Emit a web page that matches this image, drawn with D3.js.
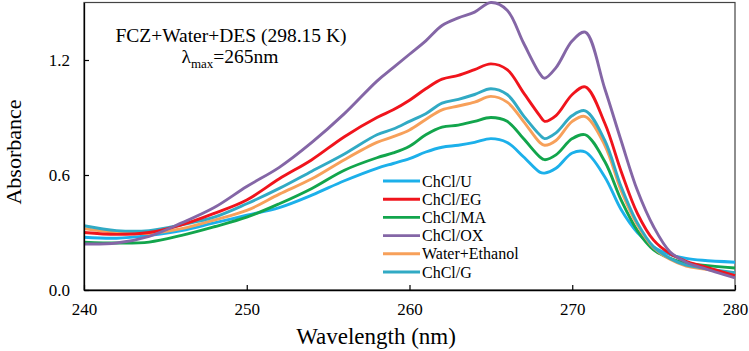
<!DOCTYPE html>
<html>
<head>
<meta charset="utf-8">
<script src="https://cdn.jsdelivr.net/npm/d3@7"></script>
<style>
  body { margin: 0; background: #fff; }
  svg text { font-family: "Liberation Serif", Tinos, "Times New Roman", Times, "DejaVu Serif", serif !important; fill: #000; }
</style>
</head>
<body>
<div id="chart"></div>
<script>
// wavelengths (nm)
const wavelengths = [240, 242, 244, 246, 248, 250, 252, 254, 256, 258, 259, 260, 261, 262, 263, 264, 265, 266, 267, 268, 268.3, 269, 270, 270.8, 272, 273, 274, 275, 276, 277, 278, 280];

// absorbance for each system
const chclU   = [0.275, 0.27, 0.285, 0.31, 0.35, 0.39, 0.43, 0.495, 0.57, 0.635, 0.66, 0.685, 0.72, 0.745, 0.755, 0.77, 0.79, 0.77, 0.695, 0.615, 0.61, 0.635, 0.715, 0.72, 0.59, 0.42, 0.30, 0.225, 0.185, 0.165, 0.155, 0.145];
const chclEG  = [0.30, 0.29, 0.30, 0.34, 0.40, 0.47, 0.58, 0.68, 0.80, 0.90, 0.94, 0.99, 1.05, 1.10, 1.12, 1.15, 1.18, 1.15, 1.03, 0.91, 0.88, 0.91, 1.02, 1.06, 0.87, 0.62, 0.40, 0.26, 0.19, 0.15, 0.125, 0.075];
const chclMA  = [0.25, 0.245, 0.25, 0.285, 0.33, 0.38, 0.45, 0.53, 0.625, 0.69, 0.715, 0.75, 0.81, 0.85, 0.86, 0.88, 0.90, 0.88, 0.79, 0.695, 0.68, 0.705, 0.79, 0.81, 0.67, 0.47, 0.31, 0.21, 0.165, 0.14, 0.13, 0.115];
const chclOX  = [0.24, 0.245, 0.28, 0.35, 0.43, 0.54, 0.64, 0.77, 0.92, 1.09, 1.16, 1.23, 1.30, 1.38, 1.42, 1.45, 1.50, 1.46, 1.29, 1.13, 1.105, 1.16, 1.30, 1.345, 1.05, 0.78, 0.52, 0.33, 0.20, 0.145, 0.115, 0.063];
const waterEt = [0.32, 0.30, 0.295, 0.32, 0.365, 0.415, 0.50, 0.58, 0.68, 0.77, 0.80, 0.835, 0.89, 0.94, 0.96, 0.98, 1.01, 0.98, 0.88, 0.77, 0.755, 0.78, 0.88, 0.905, 0.755, 0.52, 0.34, 0.22, 0.16, 0.125, 0.11, 0.085];
const chclG   = [0.335, 0.31, 0.31, 0.34, 0.38, 0.45, 0.53, 0.62, 0.71, 0.81, 0.84, 0.88, 0.92, 0.975, 0.995, 1.02, 1.05, 1.02, 0.91, 0.81, 0.79, 0.82, 0.91, 0.935, 0.78, 0.54, 0.35, 0.225, 0.165, 0.13, 0.115, 0.09];

const seriesNames = ["ChCl/U", "ChCl/EG", "ChCl/MA", "ChCl/OX", "Water+Ethanol", "ChCl/G"];
const seriesValues = [chclU, chclEG, chclMA, chclOX, waterEt, chclG];
const colors = ["#1cb0ea", "#f0141c", "#12a54c", "#8466a6", "#f7a05a", "#31aac4"];

const xTicks = [240, 250, 260, 270, 280];
const yTicks = [0.0, 0.6, 1.2];

const width = 749, height = 351;
const margin = { left: 84, right: 14, top: 2.5, bottom: 61 };

const svg = d3.select("#chart").append("svg")
  .attr("width", width)
  .attr("height", height);

const x = d3.scaleLinear().domain([240, 280]).range([margin.left, width - margin.right]);
const y = d3.scaleLinear().domain([0, 1.5]).range([height - margin.bottom, margin.top]);

// frame (top / right)
svg.append("rect")
  .attr("x", x(240)).attr("y", y(1.5))
  .attr("width", x(280) - x(240)).attr("height", y(0) - y(1.5))
  .attr("fill", "none").attr("stroke", "#444").attr("stroke-width", 1.2);

// series
const line = d3.line()
  .x((d, i) => x(wavelengths[i]))
  .y(d => y(d))
  .curve(d3.curveCatmullRom.alpha(0.5));

const order = [0, 2, 4, 5, 1, 3];
order.forEach(k => {
  svg.append("path")
    .datum(seriesValues[k])
    .attr("fill", "none")
    .attr("stroke", colors[k])
    .attr("stroke-width", 2.9)
    .attr("d", line);
});

// axes
const xAxis = svg.append("g")
  .attr("transform", `translate(0,${y(0)})`)
  .call(d3.axisBottom(x).tickValues(xTicks).tickSizeInner(-5).tickSizeOuter(0).tickPadding(13));
const yAxis = svg.append("g")
  .attr("transform", `translate(${x(240)},0)`)
  .call(d3.axisLeft(y).tickValues(yTicks).tickFormat(d3.format(".1f")).tickSizeInner(-5).tickSizeOuter(0).tickPadding(14));

[xAxis, yAxis].forEach(g => {
  g.attr("font-family", null);
  g.select(".domain").attr("stroke", "#000").attr("stroke-width", 1.3);
  g.selectAll(".tick line").attr("stroke", "#000").attr("stroke-width", 1.2);
  g.selectAll(".tick text").style("font-size", "17px").attr("fill", "#000");
});

// axis titles
svg.append("text")
  .attr("x", 376).attr("y", 344)
  .attr("text-anchor", "middle")
  .style("font-size", "23px")
  .text("Wavelength (nm)");

svg.append("text")
  .attr("transform", "translate(21,152) rotate(-90)")
  .attr("text-anchor", "middle")
  .style("font-size", "22px")
  .text("Absorbance");

// annotation
svg.append("text")
  .attr("x", 231).attr("y", 42)
  .attr("text-anchor", "middle")
  .style("font-size", "19.5px")
  .text("FCZ+Water+DES (298.15 K)");

const lam = svg.append("text")
  .attr("x", 230).attr("y", 63)
  .attr("text-anchor", "middle")
  .style("font-size", "19.5px");
lam.append("tspan").text("λ");
lam.append("tspan").attr("dy", 5).style("font-size", "13px").text("max");
lam.append("tspan").attr("dy", -5).text("=265nm");

// legend
const legend = svg.append("g").attr("transform", "translate(383,181)");
seriesNames.forEach((name, i) => {
  const row = legend.append("g").attr("transform", `translate(0,${i * 18.2})`);
  row.append("line")
    .attr("x1", 0).attr("x2", 37)
    .attr("stroke", colors[i]).attr("stroke-width", 2.9);
  row.append("text")
    .attr("x", 39).attr("y", 5.5)
    .style("font-size", "16px")
    .text(name);
});
</script>
</body>
</html>
